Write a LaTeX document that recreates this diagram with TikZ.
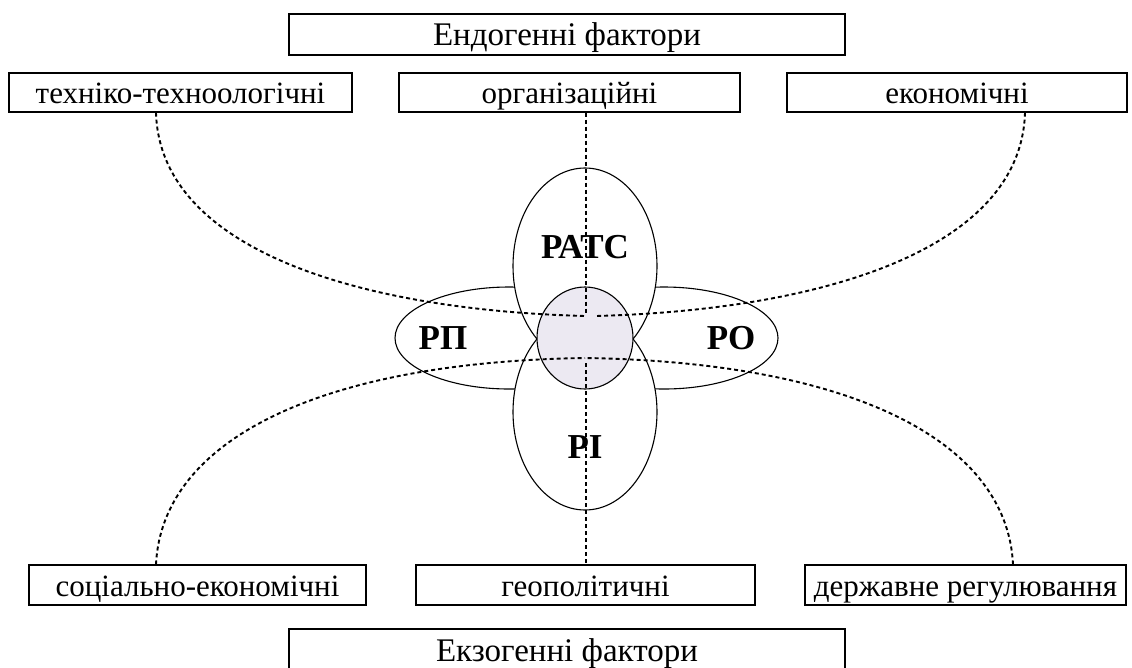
\documentclass[tikz,border=0pt]{standalone}
\usepackage{fontspec}
\setmainfont{Liberation Serif}
\usetikzlibrary{shapes.geometric}
\definecolor{lav}{RGB}{236,233,242}
\tikzset{
  fbox/.style={draw, line width=1.2pt, inner sep=0pt, fill=white},
  ttl/.style={font=\fontsize{33}{36}\selectfont, text height=23pt, text depth=2pt},
  rowtext/.style={font=\fontsize{31}{34}\selectfont, text height=24pt, text depth=2pt},
  petal/.style={ellipse, draw, line width=1.1pt, fill=white, inner sep=0pt, outer sep=0pt},
  lbl/.style={font=\fontsize{35}{38}\selectfont\bfseries, inner sep=0pt},
  link/.style={line width=1.9pt, dash pattern=on 4pt off 3pt},
}
\begin{document}
\begin{tikzpicture}[x=1pt,y=-1pt]
\useasboundingbox (0,0) rectangle (1132,667);
% boxes
\node[fbox, ttl, minimum width=556pt, minimum height=41pt] (endo) at (567,34.5) {Ендогенні фактори};
\node[fbox, rowtext, minimum width=343pt, minimum height=39pt] (tech) at (180.5,92.5) {техніко-техноологічні};
\node[fbox, rowtext, minimum width=341pt, minimum height=39pt] (org) at (569.5,92.5) {організаційні};
\node[fbox, rowtext, minimum width=340pt, minimum height=39pt] (eco) at (957,92.5) {економічні};
\node[fbox, rowtext, minimum width=337pt, minimum height=40pt] (soc) at (197.5,585) {соціально-економічні};
\node[fbox, rowtext, minimum width=339pt, minimum height=40pt] (geo) at (585.5,585) {геополітичні};
\node[fbox, rowtext, minimum width=321pt, minimum height=40pt] (state) at (965.5,585) {державне регулювання};
\node[fbox, ttl, minimum width=556pt, minimum height=43pt] (exo) at (567,650.5) {Екзогенні фактори};
% petals
\node[petal, minimum width=228pt, minimum height=102pt] (rp) at (509,338) {};
\node[petal, minimum width=228pt, minimum height=102pt] (ro) at (664,338) {};
\node[petal, minimum width=144pt, minimum height=196pt] (ratc) at (585,266) {};
\node[petal, minimum width=144pt, minimum height=196pt] (ri) at (585,412) {};
\node[petal, fill=lav, minimum width=96pt, minimum height=102pt] (core) at (585,338) {};
% connector ends
\coordinate (hubU) at (585,316);
\coordinate (hubUr) at (596,316);
\coordinate (hubL) at (585,358);
\coordinate (vtop) at (586,313);
\coordinate (vbot) at (586,363);
% dashed links
\draw[link] (org.south -| vtop) -- (vtop);
\draw[link] (vbot) -- (geo.north -| vbot);
\draw[link] (tech.south -| 156,0) .. controls (160,250) and (360,310) .. (hubU);
\draw[link] (eco.south -| 1025,0) .. controls (1021,250) and (821,310) .. (hubUr);
\draw[link] (soc.north -| 156,0) .. controls (162,440) and (320,362) .. (hubL);
\draw[link] (state.north -| 1013,0) .. controls (1007,440) and (850,362) .. (hubL);
% labels
\node[lbl] (lratc) at (585,247) {РАТС};
\node[lbl] (lrp) at (443,338) {РП};
\node[lbl] (lro) at (731,338) {РО};
\node[lbl] (lri) at (585,447) {РІ};
\end{tikzpicture}
\end{document}
